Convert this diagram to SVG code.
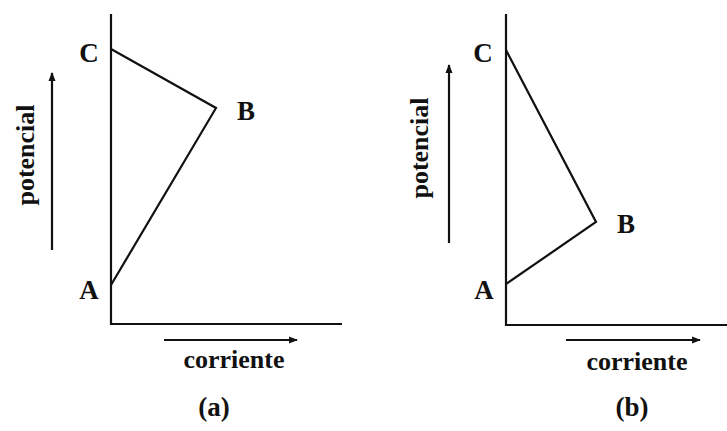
<svg xmlns="http://www.w3.org/2000/svg" width="727" height="431" viewBox="0 0 727 431">
<defs>
<marker id="ah" viewBox="0 0 10 10" refX="9" refY="5" markerWidth="4" markerHeight="4" orient="auto" markerUnits="strokeWidth">
<path d="M0,1 L10,5 L0,9 z" fill="#111"/>
</marker>
<style>
.ln{stroke:#111;stroke-width:2.2;fill:none;stroke-linejoin:miter}
.ar{stroke:#111;stroke-width:2.2;fill:none;marker-end:url(#ah)}
.lb{font-family:"Liberation Serif","Times New Roman",serif;font-weight:bold;fill:#111;font-size:27px}
.wd{font-family:"Liberation Serif","Times New Roman",serif;font-weight:bold;fill:#111;font-size:26px}
</style>
</defs>
<rect width="727" height="431" fill="#fff"/>
<g id="panel-a">
<g id="axes-a"><path class="ln" d="M111,14 V324 H342"/></g>
<g id="curve-a"><path class="ln" d="M111,49 L216,108 L111,285"/></g>
<g id="label-a-C"><text class="lb" x="89" y="62" text-anchor="middle">C</text></g>
<g id="label-a-B"><text class="lb" x="246" y="120" text-anchor="middle">B</text></g>
<g id="label-a-A"><text class="lb" x="89" y="299" text-anchor="middle">A</text></g>
<g id="arrows-a">
<path class="ar" d="M52,250 V73"/>
<path class="ar" d="M164,340 H297"/>
</g>
<g id="text-a">
<text class="wd" transform="translate(34,155) rotate(-90)" text-anchor="middle">potencial</text>
<text class="wd" x="234" y="368" text-anchor="middle">corriente</text>
<text class="lb" x="214" y="416" text-anchor="middle">(a)</text>
</g>
</g>
<g id="panel-b">
<g id="axes-b"><path class="ln" d="M506,14 V325 H727"/></g>
<g id="curve-b"><path class="ln" d="M506,50 L596,222 L506,284"/></g>
<g id="label-b-C"><text class="lb" x="483" y="62" text-anchor="middle">C</text></g>
<g id="label-b-B"><text class="lb" x="626" y="233" text-anchor="middle">B</text></g>
<g id="label-b-A"><text class="lb" x="484" y="299" text-anchor="middle">A</text></g>
<g id="arrows-b">
<path class="ar" d="M449,243 V65"/>
<path class="ar" d="M566,340 H700"/>
</g>
<g id="text-b">
<text class="wd" transform="translate(428,148) rotate(-90)" text-anchor="middle">potencial</text>
<text class="wd" x="637" y="370" text-anchor="middle">corriente</text>
<text class="lb" x="632" y="416" text-anchor="middle">(b)</text>
</g>
</g>
</svg>
